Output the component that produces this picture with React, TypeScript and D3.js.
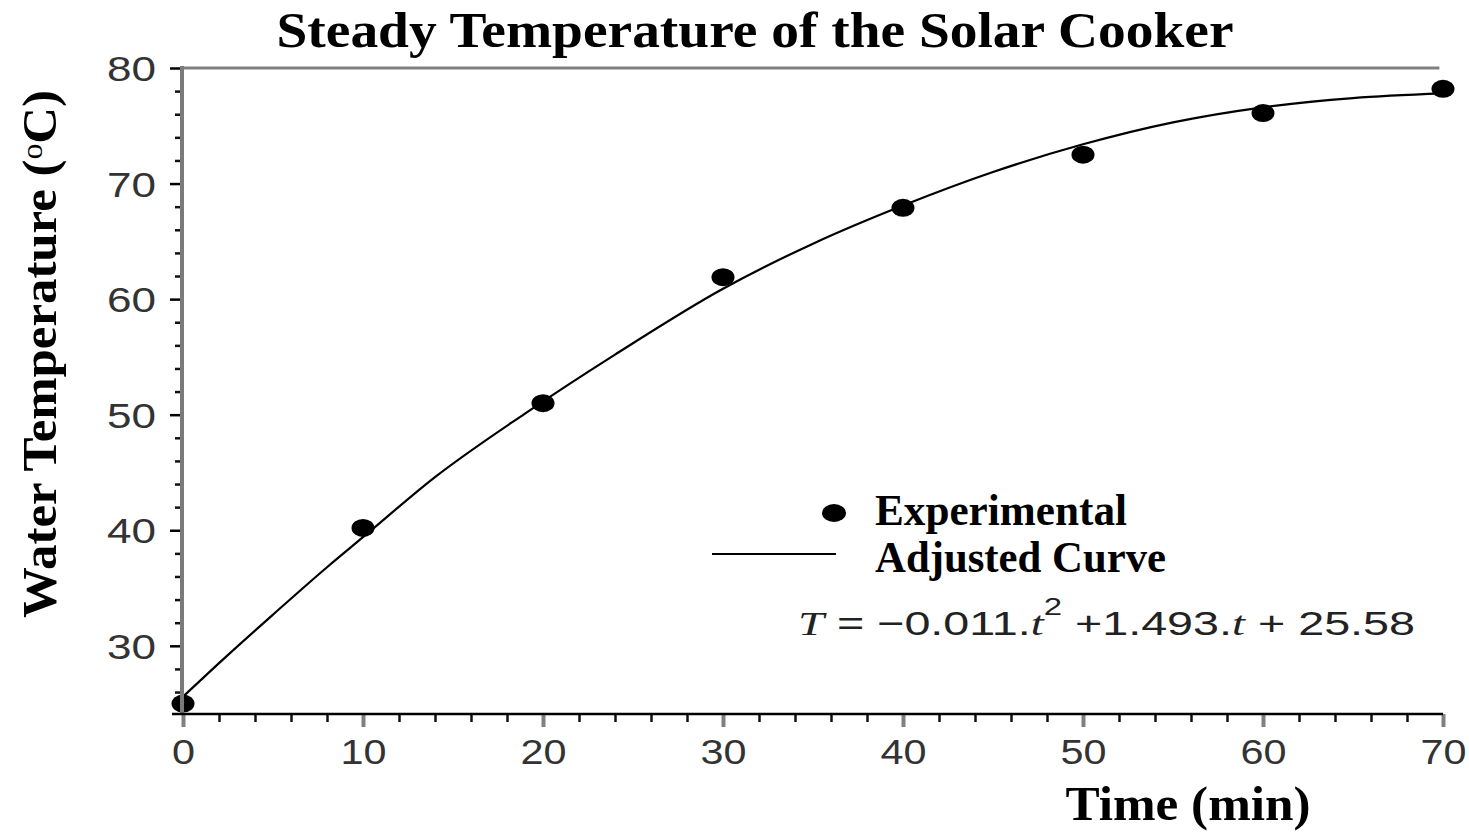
import { useEffect, useRef } from "react";
import * as d3 from "d3";

const WIDTH = 1469;
const HEIGHT = 833;
const PLOT = {
  LEFT: 183,
  RIGHT: 1443,
  TOP: 68,
  BOTTOM: 714,
};

// experimental points
const expTime = [0, 10, 20, 30, 40, 50, 60, 70];
const expTemp = [25.0, 40.2, 51.0, 61.9, 67.9, 72.5, 76.1, 78.2];

// adjusted curve
const curveTime = [0, 2, 5, 8, 10, 14, 19, 24, 30, 35, 40, 45, 50, 55, 60, 65, 70];
const curveTemp = [25.6, 28.5, 32.7, 36.8, 39.4, 44.6, 50.1, 55.2, 60.9, 64.8, 68.1, 71.0, 73.4, 75.3, 76.6, 77.4, 77.8];

const xTicks = [0, 10, 20, 30, 40, 50, 60, 70];
const yTicks = [30, 40, 50, 60, 70, 80];
const xMinor = d3.range(2, 70, 2).filter((d) => d % 10 !== 0);
const yMinor = d3.range(26, 80, 2).filter((d) => d % 10 !== 0);

const SERIF = "'Liberation Serif', 'Times New Roman', serif";
const SANS = "'Liberation Sans', Arial, sans-serif";

const App = () => {
  const svgRef = useRef<SVGSVGElement | null>(null);

  useEffect(() => {
    const svg = d3.select(svgRef.current);
    svg.selectAll("*").remove();

    const xScale = d3.scaleLinear().domain([0, 70]).range([PLOT.LEFT, PLOT.RIGHT]);
    const yScale = d3.scaleLinear().domain([24.1, 80]).range([PLOT.BOTTOM, PLOT.TOP]);

    svg.append("rect").attr("width", WIDTH).attr("height", HEIGHT).attr("fill", "#fff");

    // top border at 80
    svg
      .append("line")
      .attr("x1", xScale(0))
      .attr("x2", xScale(69.8))
      .attr("y1", yScale(80))
      .attr("y2", yScale(80))
      .attr("stroke", "#808080")
      .attr("stroke-width", 3);

    const pts = expTime.map((t, i) => ({ t, v: expTemp[i] }));
    const curve = curveTime.map((t, i) => ({ t, v: curveTemp[i] }));

    const line = d3
      .line<{ t: number; v: number }>()
      .x((d) => xScale(d.t))
      .y((d) => yScale(d.v))
      .curve(d3.curveMonotoneX);

    svg
      .append("path")
      .datum(curve)
      .attr("d", line)
      .attr("fill", "none")
      .attr("stroke", "#000")
      .attr("stroke-width", 2.2);

    svg
      .selectAll(".pt")
      .data(pts)
      .join("ellipse")
      .attr("class", "pt")
      .attr("cx", (d) => xScale(d.t))
      .attr("cy", (d) => yScale(d.v))
      .attr("rx", 11.5)
      .attr("ry", 9)
      .attr("fill", "#000");

    // y axis (gray line, black ticks)
    const yAxis = svg.append("g").attr("transform", `translate(${PLOT.LEFT - 1},0)`);
    yAxis.call(
      d3.axisLeft(yScale).tickValues(yTicks).tickSize(12).tickPadding(14).tickFormat((d) => String(d)) as any
    );
    yAxis.select(".domain").remove();
    yAxis.selectAll(".tick line").attr("stroke", "#000").attr("stroke-width", 2.5);
    yAxis
      .selectAll(".tick text")
      .attr("font-family", SANS)
      .attr("font-size", 35)
      .attr("fill", "#333")
      .attr("dy", "0.36em")
      .attr("textLength", 49)
      .attr("lengthAdjust", "spacingAndGlyphs");

    const yMinorAxis = svg.append("g").attr("transform", `translate(${PLOT.LEFT - 1},0)`);
    yMinorAxis.call(d3.axisLeft(yScale).tickValues(yMinor).tickSize(7).tickFormat(() => "") as any);
    yMinorAxis.select(".domain").remove();
    yMinorAxis.selectAll(".tick line").attr("stroke", "#111").attr("stroke-width", 2.5);

    svg
      .append("line")
      .attr("x1", PLOT.LEFT - 1)
      .attr("x2", PLOT.LEFT - 1)
      .attr("y1", yScale(80) - 2)
      .attr("y2", PLOT.BOTTOM)
      .attr("stroke", "#7a7a7a")
      .attr("stroke-width", 4);

    // x axis (black line, gray major ticks)
    const xAxis = svg.append("g").attr("transform", `translate(0,${PLOT.BOTTOM})`);
    xAxis.call(
      d3.axisBottom(xScale).tickValues(xTicks).tickSize(13).tickPadding(4).tickFormat((d) => String(d)) as any
    );
    xAxis.select(".domain").remove();
    xAxis.selectAll(".tick line").attr("stroke", "#808080").attr("stroke-width", 4);
    xAxis
      .selectAll(".tick text")
      .attr("font-family", SANS)
      .attr("font-size", 35)
      .attr("fill", "#333")
      .attr("dy", "0.95em")
      .attr("textLength", (d: any) => (String(d).length > 1 ? 46 : 23))
      .attr("lengthAdjust", "spacingAndGlyphs");

    const xMinorAxis = svg.append("g").attr("transform", `translate(0,${PLOT.BOTTOM})`);
    xMinorAxis.call(d3.axisBottom(xScale).tickValues(xMinor).tickSize(8).tickFormat(() => "") as any);
    xMinorAxis.select(".domain").remove();
    xMinorAxis.selectAll(".tick line").attr("stroke", "#111").attr("stroke-width", 2.5);

    svg
      .append("line")
      .attr("x1", PLOT.LEFT - 11)
      .attr("x2", PLOT.RIGHT)
      .attr("y1", PLOT.BOTTOM)
      .attr("y2", PLOT.BOTTOM)
      .attr("stroke", "#000")
      .attr("stroke-width", 2.5);

    // title and axis labels
    svg
      .append("text")
      .attr("x", 755)
      .attr("y", 47)
      .attr("text-anchor", "middle")
      .attr("font-family", SERIF)
      .attr("font-weight", "bold")
      .attr("font-size", 50)
      .attr("textLength", 957)
      .attr("lengthAdjust", "spacingAndGlyphs")
      .text("Steady Temperature of the Solar Cooker");

    svg
      .append("text")
      .attr("x", 1188)
      .attr("y", 820)
      .attr("text-anchor", "middle")
      .attr("font-family", SERIF)
      .attr("font-weight", "bold")
      .attr("font-size", 48)
      .attr("textLength", 245)
      .attr("lengthAdjust", "spacingAndGlyphs")
      .text("Time (min)");

    const yl = svg
      .append("text")
      .attr("transform", `translate(56,354) rotate(-90)`)
      .attr("text-anchor", "middle")
      .attr("font-family", SERIF)
      .attr("font-weight", "bold")
      .attr("font-size", 48)
      .attr("textLength", 528)
      .attr("lengthAdjust", "spacingAndGlyphs");
    yl.append("tspan").text("Water Temperature (");
    yl.append("tspan").attr("font-size", 30).attr("font-weight", "normal").attr("dy", -14).text("o");
    yl.append("tspan").attr("dy", 14).text("C)");

    // legend
    const legend = svg.append("g");
    legend.append("ellipse").attr("cx", 834).attr("cy", 513).attr("rx", 12).attr("ry", 9).attr("fill", "#000");
    legend
      .append("line")
      .attr("x1", 712)
      .attr("x2", 836)
      .attr("y1", 554)
      .attr("y2", 554)
      .attr("stroke", "#000")
      .attr("stroke-width", 2.2);
    legend
      .append("text")
      .attr("x", 875)
      .attr("y", 525)
      .attr("font-family", SERIF)
      .attr("font-weight", "bold")
      .attr("font-size", 44)
      .attr("textLength", 252)
      .attr("lengthAdjust", "spacingAndGlyphs")
      .text("Experimental");
    legend
      .append("text")
      .attr("x", 875)
      .attr("y", 572)
      .attr("font-family", SERIF)
      .attr("font-weight", "bold")
      .attr("font-size", 44)
      .attr("textLength", 291)
      .attr("lengthAdjust", "spacingAndGlyphs")
      .text("Adjusted Curve");

    const eq = legend
      .append("text")
      .attr("x", 798)
      .attr("y", 635)
      .attr("font-family", SANS)
      .attr("font-size", 34)
      .attr("fill", "#222")
      .attr("textLength", 617)
      .attr("lengthAdjust", "spacingAndGlyphs");
    eq.append("tspan").attr("font-family", SERIF).attr("font-style", "italic").text("T");
    eq.append("tspan").text(" = \u22120.011.");
    eq.append("tspan").attr("font-family", SERIF).attr("font-style", "italic").text("t");
    eq.append("tspan").attr("font-size", 24).attr("dy", -20).text("2");
    eq.append("tspan").attr("dy", 20).text(" +1.493.");
    eq.append("tspan").attr("font-family", SERIF).attr("font-style", "italic").text("t");
    eq.append("tspan").text(" + 25.58");
  }, []);

  return (
    <div style={{ position: "absolute", left: 0, top: 0, width: WIDTH, height: HEIGHT }}>
      <svg ref={svgRef} width={WIDTH} height={HEIGHT} style={{ display: "block" }} />
    </div>
  );
};

export default App;
